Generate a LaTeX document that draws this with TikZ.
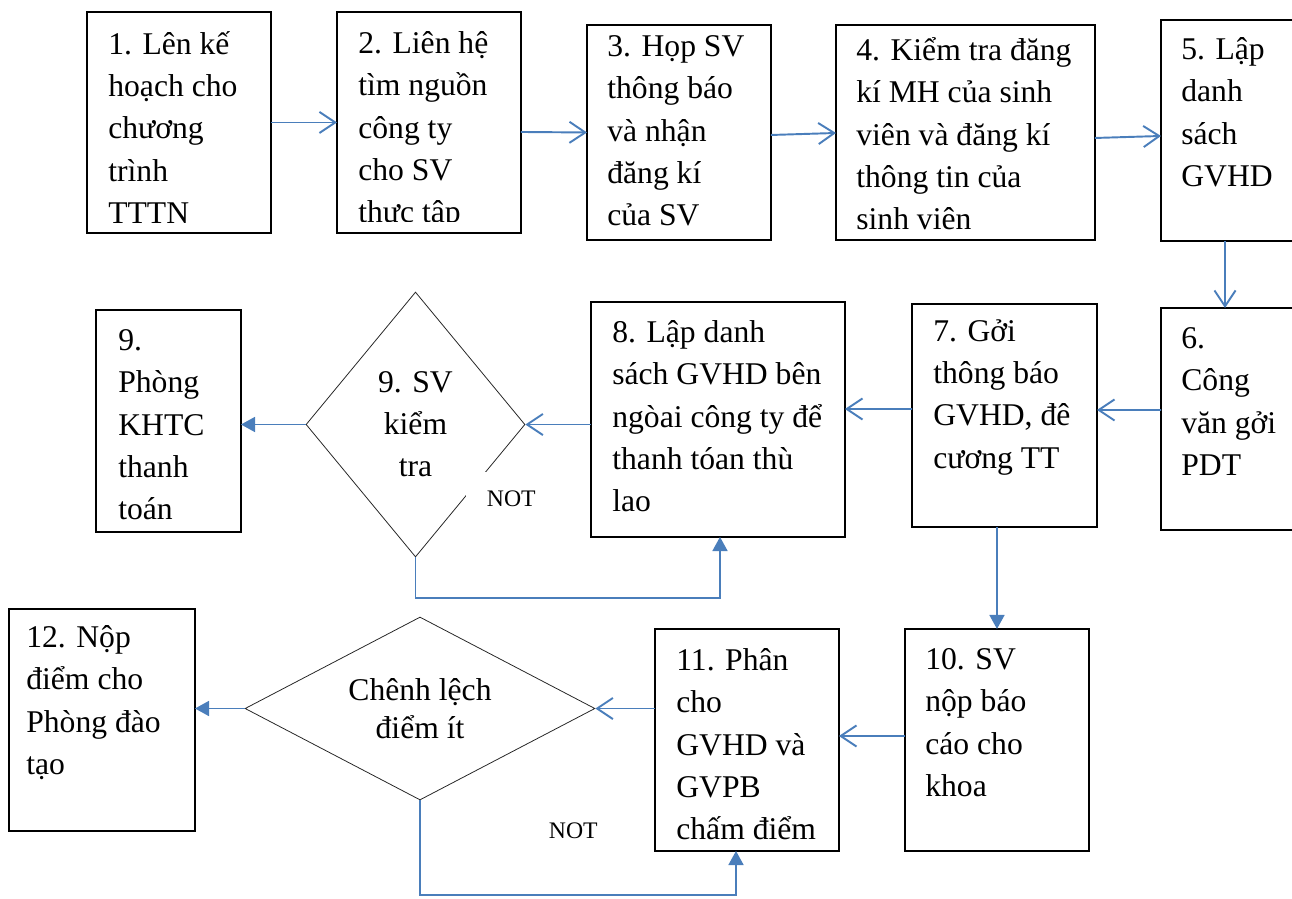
\documentclass[tikz,border=0pt]{standalone}
\usepackage{fontspec}
\setmainfont{Liberation Serif}
\usetikzlibrary{arrows.meta,shapes.geometric,calc}
\definecolor{flowblue}{RGB}{74,126,187}
\begin{document}
\begin{tikzpicture}[x=0.02cm,y=-0.02cm,
  box/.style={draw=black, line width=0.8pt, anchor=north west, inner sep=0, outer sep=0},
  txt/.style={anchor=north west, inner sep=0, align=left,
    font=\fontsize{18}{24}\selectfont, execute at begin node={\rule{0pt}{18pt}}},
  decision/.style={diamond, draw=black!85, line width=0.45pt, inner sep=0,
    align=center, font=\fontsize{18}{24}\selectfont},
  notlbl/.style={inner sep=0, anchor=base east, font=\fontsize{13.5}{16}\selectfont},
  openarr/.style={draw=flowblue, line width=1.1pt, -{Straight Barb[length=9pt,width=12pt]}},
  fillarr/.style={draw=flowblue, line width=1.1pt, -{Triangle[length=8pt,width=8.5pt]}}
]
\useasboundingbox (0,0) rectangle (1292,899);

% first row of steps
\node[box, minimum width=3.68cm, minimum height=4.42cm] (b1) at (87,12) {};
\node[box, minimum width=3.68cm, minimum height=4.42cm] (b2) at (337,12) {};
\node[box, minimum width=3.68cm, minimum height=4.30cm] (b3) at (587,25) {};
\node[box, minimum width=5.18cm, minimum height=4.30cm] (b4) at (836,25) {};
\node[box, minimum width=2.80cm, minimum height=4.42cm] (b5) at (1161,20) {};

% second row
\node[box, minimum width=2.80cm, minimum height=4.44cm] (b6) at (1161,308) {};
\node[box, minimum width=3.70cm, minimum height=4.46cm] (b7) at (912,304) {};
\node[box, minimum width=5.08cm, minimum height=4.70cm] (b8) at (591,302) {};
\node[decision, minimum width=4.38cm, minimum height=5.30cm] (d9) at (415.5,424.5) {9. SV\\kiểm\\tra};
\node[box, minimum width=2.90cm, minimum height=4.44cm] (b9) at (96,310) {};

% third row
\node[box, minimum width=3.68cm, minimum height=4.44cm] (b10) at (905,629) {};
\node[box, minimum width=3.68cm, minimum height=4.44cm] (b11) at (655,629) {};
\node[decision, aspect=2, minimum width=7.00cm, minimum height=3.66cm,
  font=\fontsize{18}{21.5}\selectfont] (d2) at (420,708.5) {Chênh lệch\\điểm ít};
\node[box, minimum width=3.72cm, minimum height=4.44cm] (b12) at (9,609) {};

% box texts
\node[txt] (t1) at ($(b1.north west)+(21,19.4)$) {1. Lên kế\\hoạch cho\\chương\\trình\\TTTN};
\begin{scope}
  \clip (b2.north west) rectangle ($(b2.south east)+(0,-11)$);
  \node[txt] (t2) at ($(b2.north west)+(21,19.4)$) {2. Liên hệ\\tìm nguồn\\công ty\\cho SV\\thực tập};
\end{scope}
\node[txt] (t3) at ($(b3.north west)+(20,10.4)$) {3. Họp SV\\thông báo\\và nhận\\đăng kí\\của SV};
\node[txt] (t4) at ($(b4.north west)+(20,12.4)$) {4. Kiểm tra đăng\\kí MH của sinh\\viên và đăng kí\\thông tin của\\sinh viên};
\node[txt] (t5) at ($(b5.north west)+(20,17.4)$) {5. Lập\\danh\\sách\\GVHD};
\node[txt] (t6) at ($(b6.north west)+(20,19.4)$) {6.\\Công\\văn gởi\\PDT};
\node[txt] (t7) at ($(b7.north west)+(21,15.4)$) {7. Gởi\\thông báo\\GVHD, đê\\cương TT};
\node[txt] (t8) at ($(b8.north west)+(21,18.4)$) {8. Lập danh\\sách GVHD bên\\ngòai công ty để\\thanh tóan thù\\lao};
\node[txt] (t9) at ($(b9.north west)+(22,19.4)$) {9.\\Phòng\\KHTC\\thanh\\toán};
\node[txt] (t10) at ($(b10.north west)+(20,19.4)$) {10. SV\\nộp báo\\cáo cho\\khoa};
\node[txt] (t11) at ($(b11.north west)+(21,19.4)$) {11. Phân\\cho\\GVHD và\\GVPB\\chấm điểm};
\node[txt] (t12) at ($(b12.north west)+(17,16.4)$) {12. Nộp\\điểm cho\\Phòng đào\\tạo};

% connectors, first row
\draw[openarr] (b1.east) -- (b2.west);
\draw[openarr] ($(b2.east)+(0,9.5)$) -- (b3.west);
\draw[openarr] ($(b3.east)+(0,2.5)$) -- ($(b4.west)+(0,0.5)$);
\draw[openarr] ($(b4.east)+(0,5.5)$) -- ($(b5.west)+(0,5.5)$);
\draw[openarr] ($(b5.south west)+(64,0)$) -- ($(b6.north west)+(64,0)$);

% connectors, second row
\draw[openarr] ($(b6.west)+(0,-9)$) -- ($(b7.east)+(0,-5.5)$);
\draw[openarr] ($(b7.west)+(0,-6.5)$) -- ($(b8.east)+(0,-10.5)$);
\draw[openarr] (b8.west |- d9.east) -- (d9.east);
\draw[fillarr] (d9.west) -- (b9.east |- d9.west);
\draw[fillarr] (d9.south) -- ++(0,41) -| ($(b8.south west)+(129,0)$);
\node[notlbl, fill=white, text width=1.4cm, align=right, text height=0.68cm, text depth=0pt] (n1) at (536,506) {NOT};

% connectors, third row
\draw[fillarr] (b7.south -| b10.north) -- (b10.north);
\draw[openarr] ($(b10.west)+(0,-4)$) -- ($(b11.east)+(0,-4)$);
\draw[openarr] (b11.west |- d2.east) -- (d2.east);
\draw[fillarr] (d2.west) -- (b12.east |- d2.west);
\draw[fillarr] (d2.south) -- ++(0,95) -| ($(b11.south west)+(81,0)$);
\node[notlbl] (n2) at (598,838) {NOT};
\end{tikzpicture}
\end{document}
